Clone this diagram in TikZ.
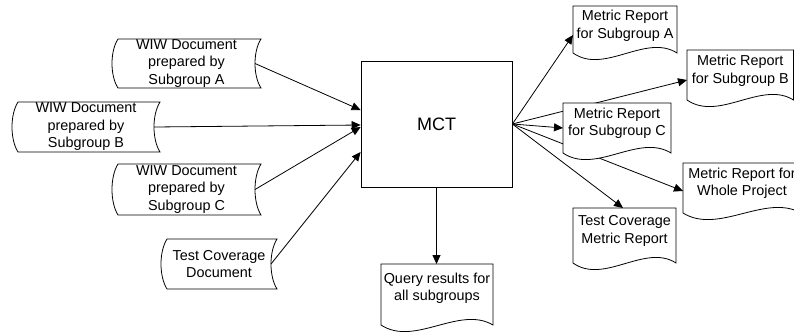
\documentclass[tikz,border=0pt]{standalone}
\usepackage{fontspec}
\setmainfont{Liberation Sans}
\usetikzlibrary{arrows.meta,calc}
\tikzset{
  sd/.style={draw=black, fill=white, line width=0.8pt},
  txt/.style={inner sep=0pt, align=center, font=\fontsize{14.4}{17.5}\selectfont},
  arr/.style={draw=black, line width=0.8pt, -{Triangle[length=9pt,width=8pt]}},
  box/.style={draw=black, fill=white, line width=0.8pt, inner sep=0pt}
}
% stored-data shape: name, x1, y1, x2, y2, text
\newcommand\storeddoc[6]{%
  \path[sd] ({#2+6},#3) -- (#4,#3) .. controls ({#4-8},{#3+(#5-#3)/4}) and ({#4-8},{#5-(#5-#3)/4}) .. (#4,#5) -- ({#2+6},#5) .. controls ({#2-2},{#5-(#5-#3)/4}) and ({#2-2},{#3+(#5-#3)/4}) .. cycle;
  \node[txt, minimum width={#4-#2}, minimum height={#5-#3}] (#1) at ({(#2+#4)/2},{(#3+#5)/2}) {#6};
  \coordinate (#1-in) at ({#4-6},{(#3+#5)/2});
}
% document shape: name, x1, y1, x2, yb, text, text shift
\newcommand\reportdoc[7]{%
  \path[sd] (#2,#3) -- (#4,#3) -- (#4,#5) .. controls ({#2+0.7*(#4-#2)},{#5-20}) and ({#2+0.3*(#4-#2)},{#5+22}) .. (#2,#5) -- cycle;
  \node[inner sep=0pt, minimum width={#4-#2}, minimum height={#5-#3}] (#1) at ({(#2+#4)/2},{(#3+#5)/2}) {};
  \node[txt] (#1-t) at ({(#2+#4)/2},{(#3+#5)/2+#7}) {#6};
}
\begin{document}
\begin{tikzpicture}[x=1pt,y=-1pt]
\useasboundingbox (0,0) rectangle (794,333);
\clip (0,0) rectangle (794,333);
\fill[white] (0,0) rectangle (794,333);

% central box
\node[box, minimum width=151pt, minimum height=126pt, font=\fontsize{18}{20}\selectfont] (mct) at (436.5,124) {MCT};

% inputs
\storeddoc{docA}{112}{39}{261}{88}{WIW Document\\prepared by\\Subgroup A}
\storeddoc{docB}{12}{102}{160}{152}{WIW Document\\prepared by\\Subgroup B}
\storeddoc{docC}{112}{164}{261}{215}{WIW Document\\prepared by\\Subgroup C}
\storeddoc{tcd}{161}{239}{277}{289}{Test Coverage\\Document}

\draw[arr] (docA-in) -- ($(mct.west)+(0,-14)$);
\draw[arr] (docB-in) -- ($(mct.west)+(0,1)$);
\draw[arr] (docC-in) -- ($(mct.west)+(0,3)$);
\draw[arr] (tcd-in) -- ($(mct.west)+(0,28)$);

% output arrows (drawn before shapes so they pass behind)
\coordinate (mA-in) at (573,35);
\coordinate (mB-in) at (687,80);
\coordinate (mC-in) at (563,128);
\coordinate (mW-in) at (683,191);
\coordinate (tcm-in) at (623,208);
\coordinate (q-in) at (436.5,264);
\draw[arr] (mct.east) -- (mA-in);
\draw[arr] (mct.east) -- (mB-in);
\draw[arr] (mct.east) -- (mW-in);
\draw[arr] (mct.east) -- (tcm-in);
\draw[arr] (mct.east) -- (mC-in);
\draw[arr] (mct.south) -- (q-in);

% outputs
\reportdoc{mA}{573}{6}{677}{53}{Metric Report\\for Subgroup A}{-3.5}
\reportdoc{mB}{687}{50}{793.5}{100}{Metric Report\\for Subgroup B}{-4}
\reportdoc{mC}{563}{103}{671}{153}{Metric Report\\for Subgroup C}{-4.5}
\reportdoc{mW}{683}{163}{801}{213}{Metric Report for\\Whole Project}{-4.5}
\reportdoc{tcm}{573}{208}{676}{263}{Test Coverage\\Metric Report}{-4.5}
\reportdoc{query}{381}{264}{493}{325}{Query results for\\all subgroups}{-6}
\end{tikzpicture}
\end{document}
